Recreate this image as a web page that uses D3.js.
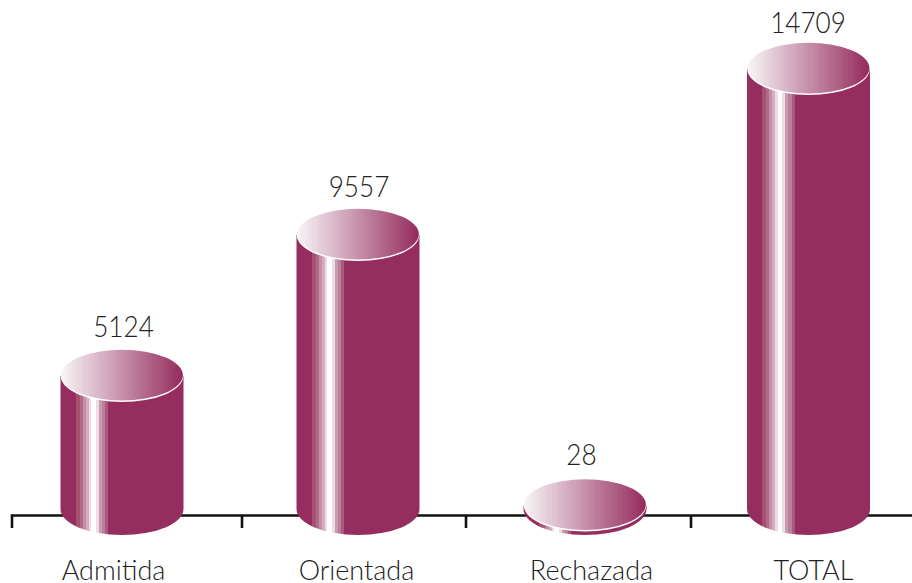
<!DOCTYPE html>
<html>
<head>
<meta charset="utf-8">
<script src="https://cdn.jsdelivr.net/npm/d3@7"></script>
<style>
html,body{margin:0;padding:0;background:#fff;overflow:hidden}
svg{display:block}
text{font-family:Lato,"Open Sans",sans-serif;font-weight:300;fill:#222;text-anchor:middle}
</style>
</head>
<body>
<svg id="chart" width="912" height="583"></svg>
<script>
const categories = ["Admitida", "Orientada", "Rechazada", "TOTAL"];
const values = [5124, 9557, 28, 14709];
const valueLabels = ["5124", "9557", "28", "14709"];

const W = 912, H = 583, RX = 61.5, RY = 26, AXIS_Y = 515.5;
const BAR = "#952d5f";
const svg = d3.select("#chart");

// The original picture is not proportional: its bars follow these reference heights.
const y = d3.scaleLinear().domain([0, 28, 5124, 9557, 14709]).range([509, 505.5, 376, 235, 69]);
const valueLabelY = d3.scaleLinear().domain([28, 5124, 9557, 14709]).range([465, 337, 196.5, 33]);
const x = d3.scaleLinear().domain([0, 1, 2, 3]).range([122, 358, 585, 808.5]);
const tickX = d3.scaleLinear().domain([0, 1, 2, 3]).range([12, 242, 466, 691]);
const valueLabelX = d3.scaleLinear().domain([0, 1, 2, 3]).range([123.5, 359, 581.5, 808]);
const catLabelX = d3.scaleLinear().domain([0, 1, 2, 3]).range([113.5, 356.5, 591.5, 813.5]);

const defs = svg.append("defs");
// finely banded top gradient, white-ish to bar colour
const topGrad = defs.append("linearGradient").attr("id", "topGrad");
const nTop = 40, mix = d3.interpolateRgb("#f7f3f5", BAR);
d3.range(nTop).forEach(i => {
  const c = mix(i / (nTop - 1));
  topGrad.append("stop").attr("offset", i / nTop).attr("stop-color", c);
  topGrad.append("stop").attr("offset", (i + 1) / nTop).attr("stop-color", c);
});
// banded vertical highlight on the body, offsets are fractions of the width
const sideGrad = defs.append("linearGradient").attr("id", "sideGrad");
const bands = [
  [0, 0.125, BAR], [0.125, 0.155, "#a6516f"], [0.155, 0.18, "#b06a8a"], [0.18, 0.205, "#c58fa8"],
  [0.205, 0.23, "#d5adc0"], [0.23, 0.25, "#ecdce4"], [0.25, 0.285, "#ffffff"], [0.285, 0.31, "#ecdce4"],
  [0.31, 0.335, "#c99bb1"], [0.335, 0.365, "#bb7f9b"], [0.365, 0.39, "#a85a80"], [0.39, 1, BAR]
];
bands.forEach(b => {
  sideGrad.append("stop").attr("offset", b[0]).attr("stop-color", b[2]);
  sideGrad.append("stop").attr("offset", b[1]).attr("stop-color", b[2]);
});

// axis
const axis = svg.append("g").attr("stroke", "#111").attr("stroke-width", 2.6).attr("fill", "none");
axis.append("line").attr("x1", tickX(0) - 1.3).attr("x2", W).attr("y1", AXIS_Y).attr("y2", AXIS_Y);
axis.selectAll(".tick").data(d3.range(categories.length)).join("line")
  .attr("class", "tick")
  .attr("x1", d => tickX(d)).attr("x2", d => tickX(d))
  .attr("y1", AXIS_Y).attr("y2", 528);

// cylinders
const g = svg.selectAll(".bar").data(values).join("g").attr("class", "bar");
g.append("path")
  .attr("fill", "url(#sideGrad)")
  .attr("d", (d, i) => {
    const cx = x(i), t = y(d), b = y(0);
    return `M${cx - RX},${t}L${cx - RX},${b}A${RX},${RY} 0 0 0 ${cx + RX},${b}L${cx + RX},${t}Z`;
  });
g.append("ellipse")
  .attr("cx", (d, i) => x(i)).attr("cy", d => y(d))
  .attr("rx", RX - 0.3).attr("ry", RY)
  .attr("fill", "#fff");
g.append("ellipse")
  .attr("cx", (d, i) => x(i)).attr("cy", d => y(d) - 0.9)
  .attr("rx", RX - 0.6).attr("ry", RY - 0.6)
  .attr("fill", "url(#topGrad)");

// value labels (narrowed a little to follow the tall, condensed figures of the original)
svg.selectAll(".val").data(values).join("text")
  .attr("class", "val")
  .attr("transform", (d, i) => `translate(${valueLabelX(i)},${valueLabelY(d)}) scale(0.9,1)`)
  .attr("font-size", 29)
  .text((d, i) => valueLabels[i]);

// category labels
svg.selectAll(".cat").data(categories).join("text")
  .attr("class", "cat")
  .attr("x", (d, i) => catLabelX(i)).attr("y", 580)
  .attr("font-size", 27)
  .text(d => d);
</script>
</body>
</html>
